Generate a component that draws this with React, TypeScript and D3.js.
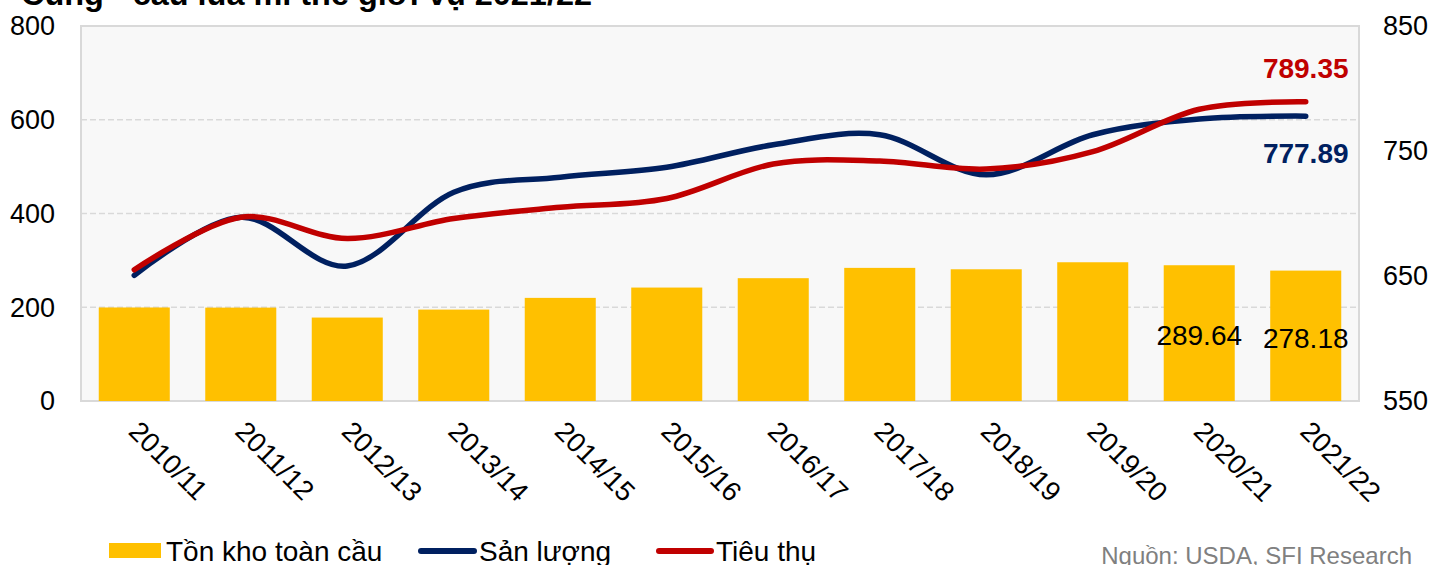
import React from "react";
import * as d3 from "d3";

const categories = ["2010/11","2011/12","2012/13","2013/14","2014/15","2015/16","2016/17","2017/18","2018/19","2019/20","2020/21","2021/22"];
const stocks = [199.5, 199.2, 178, 195, 220, 242, 262, 284, 281, 296, 289.64, 278.18];
const production = [650.5, 697, 658, 717, 729, 737, 755, 763, 731, 763, 775.6, 777.89];
const consumption = [655, 697, 680, 696, 705, 712, 739.6, 742, 735.6, 749.5, 783.4, 789.35];
const leftTicks = [0, 200, 400, 600, 800];
const rightTicks = [550, 650, 750, 850];

const W = 1431, H = 565;
const L = 81, R = 1359, T = 26, B = 401;
const FONT = "'Liberation Sans', Arial, sans-serif";

export default function App() {
  const x = d3.scaleBand<string>().domain(categories).range([L, R]).paddingInner(0.333).paddingOuter(0.1667);
  const yL = d3.scaleLinear().domain([0, 800]).range([B, T]);
  const yR = d3.scaleLinear().domain([550, 850]).range([B, T]);
  const cx = (c: string) => (x(c) as number) + x.bandwidth() / 2;
  const line = d3.line<number>().x((_, i) => cx(categories[i])).y((v) => yR(v)).curve(d3.curveCardinal.tension(0));
  const last = categories[categories.length - 1];
  const prev = categories[categories.length - 2];

  return (
    <svg width={W} height={H} style={{ position: "absolute", left: 0, top: 0 }} fontFamily={FONT}>
      <rect x={0} y={0} width={W} height={H} fill="#fff" />
      <text x={21} y={5} fontSize={32} fontWeight="bold" fill="#000" textLength={571} lengthAdjust="spacingAndGlyphs">Cung - cầu lúa mì thế giới vụ 2021/22</text>
      <rect x={L} y={T} width={R - L} height={B - T} fill="#F8F8F8" stroke="#D9D9D9" strokeWidth={2} />
      {leftTicks.filter((t) => t > 0 && t < 800).map((t) => (
        <line key={t} x1={L} x2={R} y1={yL(t)} y2={yL(t)} stroke="#D9D9D9" strokeWidth={1.5} strokeDasharray="6,3" />
      ))}
      {categories.map((c, i) => (
        <rect key={c} x={x(c)} y={yL(stocks[i])} width={x.bandwidth()} height={B - yL(stocks[i])} fill="#FFC000" />
      ))}
      <path d={line(production) || ""} fill="none" stroke="#002060" strokeWidth={5.5} strokeLinecap="round" />
      <path d={line(consumption) || ""} fill="none" stroke="#C00000" strokeWidth={5.5} strokeLinecap="round" />
      {leftTicks.map((t) => (
        <text key={t} x={55} y={yL(t)} dy="0.35em" textAnchor="end" fontSize={27} fill="#000">{t}</text>
      ))}
      {rightTicks.map((t) => (
        <text key={t} x={1383} y={yR(t)} dy="0.35em" textAnchor="start" fontSize={27} fill="#000">{t}</text>
      ))}
      {categories.map((c) => (
        <text key={c} transform={`translate(${cx(c) - 7},${433}) rotate(45)`} fontSize={27.5} fill="#000">{c}</text>
      ))}
      <text x={cx(prev)} y={345} textAnchor="middle" fontSize={28} fill="#000">{stocks[10].toFixed(2)}</text>
      <text x={cx(last)} y={348} textAnchor="middle" fontSize={28} fill="#000">{stocks[11].toFixed(2)}</text>
      <text x={cx(last)} y={78} textAnchor="middle" fontSize={28} fontWeight="bold" fill="#C00000">{consumption[11].toFixed(2)}</text>
      <text x={cx(last)} y={163} textAnchor="middle" fontSize={28} fontWeight="bold" fill="#002060">{production[11].toFixed(2)}</text>
      <rect x={109} y={543} width={52} height={15} fill="#FFC000" />
      <text x={166} y={561} fontSize={28} fill="#000">Tồn kho toàn cầu</text>
      <line x1={421} x2={474} y1={551} y2={551} stroke="#002060" strokeWidth={6} strokeLinecap="round" />
      <text x={479} y={561} fontSize={28} fill="#000">Sản lượng</text>
      <line x1={659} x2={711} y1={551} y2={551} stroke="#C00000" strokeWidth={6} strokeLinecap="round" />
      <text x={716} y={561} fontSize={28} fill="#000">Tiêu thụ</text>
      <text x={1412} y={564} textAnchor="end" fontSize={24} fill="#808080">Nguồn: USDA, SFI Research</text>
    </svg>
  );
}
